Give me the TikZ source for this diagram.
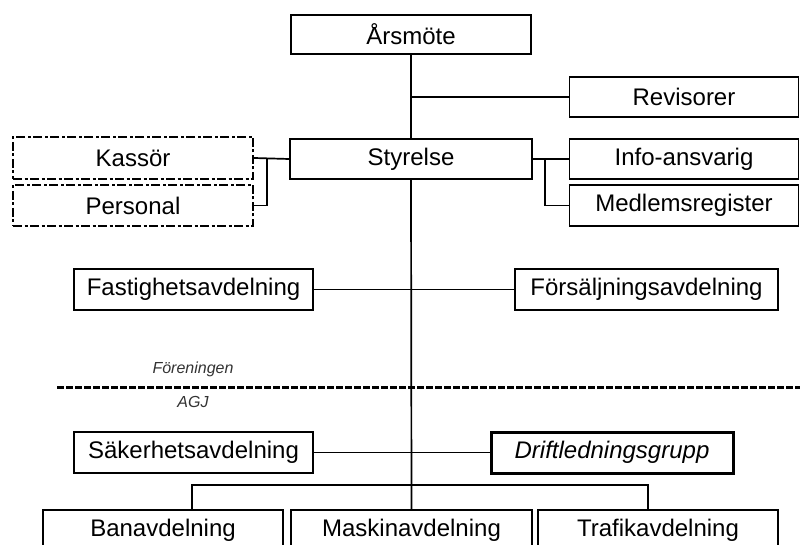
\documentclass[tikz,border=0pt]{standalone}
\usepackage{fontspec}
\setmainfont{Liberation Sans}
\begin{document}
\begin{tikzpicture}[x=1pt,y=-1pt,
  box/.style={draw=black,line width=1.7pt,inner sep=0pt,minimum height=40pt,
    font=\fontsize{24}{28}\selectfont},
  dbox/.style={box,line width=2.4pt,dash pattern=on 9pt off 2.5pt on 3pt off 2.5pt},
  tbox/.style={box,line width=3pt,font=\fontsize{24}{28}\selectfont\itshape},
  conn/.style={line width=1.7pt},
  sep/.style={line width=3pt,dash pattern=on 7pt off 2pt},
  small/.style={font=\fontsize{16}{18}\selectfont\itshape,text=black!80}]
\useasboundingbox (0,0) rectangle (800,545);
% boxes
\node[box,minimum width=240pt,minimum height=39pt] (ars) at (411,34.5) {Årsmöte};
\node[box,minimum width=229pt] (rev) at (684,97) {Revisorer};
\node[box,minimum width=242pt] (sty) at (411,159) {Styrelse};
\node[dbox,minimum width=240pt,minimum height=42pt] (kas) at (133,158) {Kassör};
\node[dbox,minimum width=240pt,minimum height=41pt] (per) at (133,205.5) {Personal};
\node[box,minimum width=229pt] (info) at (684,159) {Info-ansvarig};
\node[box,minimum width=229pt,minimum height=41pt] (med) at (684,205.5) {Medlemsregister};
\node[box,minimum width=239pt,minimum height=41pt] (fast) at (193.5,289.5) {Fastighetsavdelning};
\node[box,minimum width=263pt,minimum height=41pt] (fors) at (646.5,289.5) {Försäljningsavdelning};
\node[box,minimum width=239pt,minimum height=41pt] (sak) at (193.5,452.5) {Säkerhetsavdelning};
\node[tbox,minimum width=242pt,minimum height=41pt] (drift) at (612,452.5) {Driftledningsgrupp};
\node[box,minimum width=240pt] (bana) at (163,530) {Banavdelning};
\node[box,minimum width=241pt] (mask) at (411.5,530) {Maskinavdelning};
\node[box,minimum width=240pt] (traf) at (658,530) {Trafikavdelning};
% labels and separator
\node[small] (foren) at (193,369) {Föreningen};
\node[small] (agj) at (193,402) {AGJ};
\coordinate (sepL) at (57,387);
\coordinate (sepR) at (800,387);
\draw[sep] (sepL) -- (sepR);
% connectors
\coordinate (kbr) at (267,159);
\coordinate (ibr) at (545,159);
\coordinate (bl) at (192,485);
\coordinate (br) at (648,485);
\draw[conn] (ars.south) -- (sty.north);
\draw[conn] (ars.south |- rev.west) -- (rev.west);
\draw[conn] (sty.south) -- (mask.north);
\draw[conn] (sty.west) -- (kas.east);
\draw[conn] (kbr) |- (per.east);
\draw[conn] (sty.east) -- (info.west);
\draw[conn] (ibr) |- (med.west);
\draw[conn] (fast.east) -- (fors.west);
\draw[conn] (sak.east) -- (drift.west);
\draw[conn] (bana.north -| bl) -- (bl) -- (br) -- (traf.north -| br);
\end{tikzpicture}
\end{document}
